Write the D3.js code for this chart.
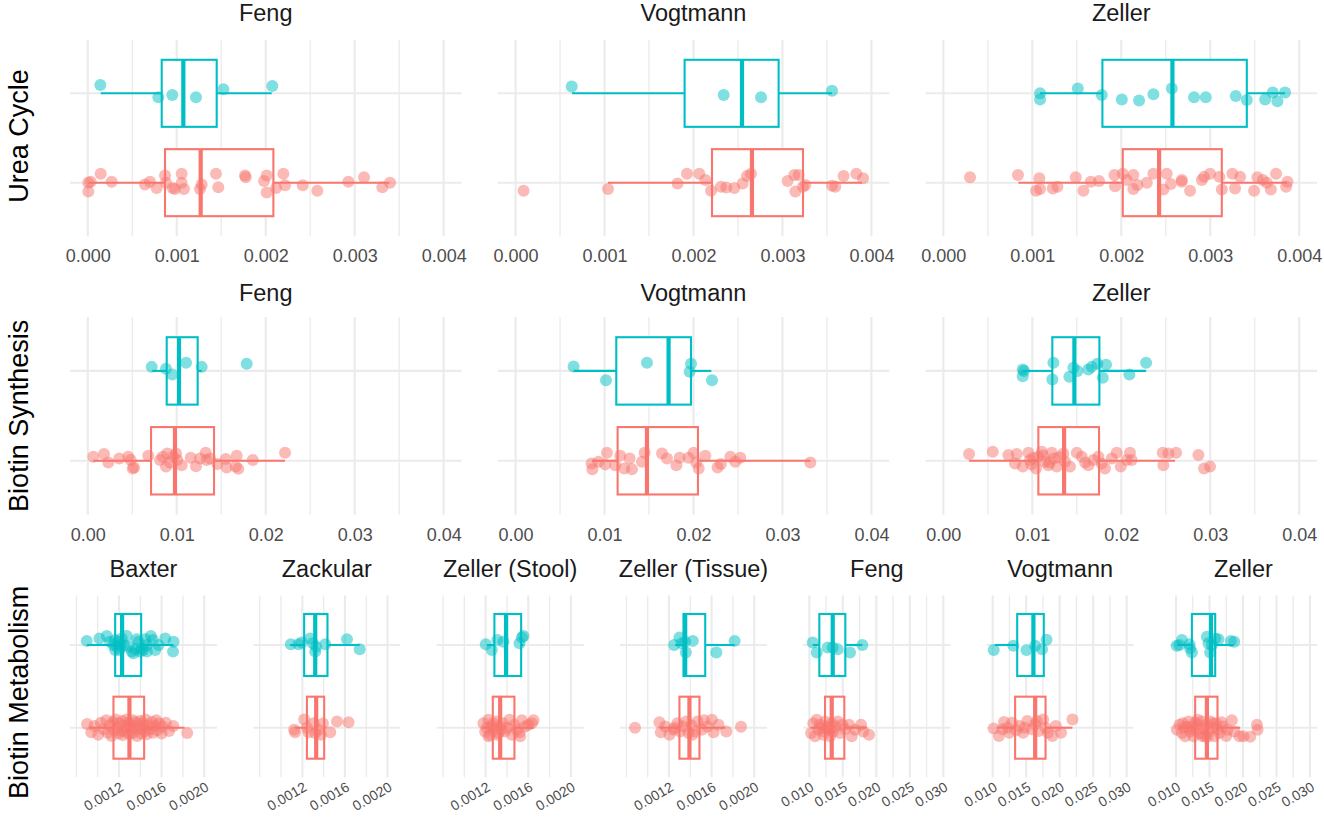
<!DOCTYPE html>
<html>
<head>
<meta charset="utf-8">
<script src="https://cdn.jsdelivr.net/npm/d3@7"></script>
<style>
  html, body { margin: 0; padding: 0; background: #ffffff; }
  svg { display: block; font-family: "Liberation Sans", Arial, Helvetica, sans-serif; }
</style>
</head>
<body>
<svg id="chart" width="1324" height="835"></svg>
<script>
// ------------------------------------------------------------------
// Data: relative abundance per sample, [value, vertical jitter in category units]
// "ctrl" = first factor level (bottom, red), "crc" = second level (top, teal)
// Box stats: [lower whisker, Q1, median, Q3, upper whisker]
// ------------------------------------------------------------------
const groups = ["Control", "CRC"];
const pathways = ["Urea Cycle", "Biotin Synthesis", "Biotin Metabolism"];

// ---- Urea Cycle ----
const ureaFengCrc = [[0.000141,0.093],[0.000793,-0.045],[0.000950,-0.019],[0.001216,-0.045],[0.001524,0.045],[0.002074,0.082]];
const ureaFengCrcBox = [0.000145,0.000831,0.001074,0.001449,0.002067];
const ureaFengCtrl = [[0.000006,0],[0.000006,-0.10],[0.000032,0.01],[0.000145,0.10],[0.000268,0.01],[0.000643,-0.02],[0.000699,0.01],[0.000774,-0.06],[0.000868,0.08],[0.000879,0],[0.000954,-0.06],[0.000980,-0.07],[0.001055,0.10],[0.001055,0],[0.001081,-0.07],[0.001261,-0.07],[0.001280,-0.02],[0.001441,0.10],[0.001467,-0.05],[0.001767,0.08],[0.001775,0.06],[0.001981,0.02],[0.002011,0.08],[0.002011,-0.11],[0.002116,-0.06],[0.002198,0.10],[0.002217,-0.03],[0.002416,-0.03],[0.002580,-0.09],[0.002929,0.01],[0.003105,0.06],[0.003311,-0.05],[0.003397,0]];
const ureaFengCtrlBox = [0.000006,0.000868,0.001269,0.002086,0.003390];

const ureaVogtCrc = [[0.000631,0.075],[0.002339,-0.02],[0.002759,-0.045],[0.003557,0.03]];
const ureaVogtCrcBox = [0.000634,0.001900,0.002545,0.002957,0.003557];
const ureaVogtCtrl = [[0.000090,-0.09],[0.001039,-0.07],[0.001821,-0.01],[0.001927,0.10],[0.002065,0.10],[0.002133,0.03],[0.002197,-0.09],[0.002309,-0.045],[0.002369,-0.055],[0.002459,-0.06],[0.002552,-0.01],[0.002601,0.075],[0.002646,0.10],[0.003058,0.02],[0.003133,0.085],[0.003145,-0.10],[0.003182,0.085],[0.003231,-0.045],[0.003257,-0.025],[0.003557,-0.035],[0.003594,-0.045],[0.003687,0.075],[0.003830,0.10],[0.003906,0.05]];
const ureaVogtCtrlBox = [0.001039,0.002208,0.002657,0.003231,0.003894];

const ureaZellerCrc = [[0.001087,0],[0.001087,-0.07],[0.001511,0.055],[0.001781,-0.02],[0.002006,-0.07],[0.002200,-0.08],[0.002361,-0.01],[0.002568,0.055],[0.002818,-0.045],[0.002950,-0.045],[0.003287,-0.03],[0.003411,-0.075],[0.003617,-0.07],[0.003703,0.01],[0.003755,-0.09],[0.003841,0.01]];
const ureaZellerCrcBox = [0.001087,0.001788,0.002575,0.003411,0.003841];
const ureaZellerCtrl = [[0.000300,0.06],[0.000839,0.085],[0.001079,0.05],[0.001042,-0.09],[0.001087,-0.07],[0.001230,-0.065],[0.001282,-0.045],[0.001488,0.06],[0.001574,-0.09],[0.001657,0.01],[0.001750,0.02],[0.001923,0.085],[0.001930,-0.04],[0.002017,0.10],[0.002062,0.03],[0.002136,0.085],[0.002136,-0.07],[0.002181,-0.025],[0.002287,0],[0.002361,0.10],[0.002473,-0.075],[0.002511,0.10],[0.002556,-0.015],[0.002680,0.03],[0.002680,0.01],[0.002773,-0.09],[0.002905,0.03],[0.002931,0.065],[0.002998,0.10],[0.003103,0.065],[0.003130,-0.075],[0.003249,0.10],[0.003279,-0.065],[0.003336,0.065],[0.003493,-0.09],[0.003530,0.06],[0.003591,0.03],[0.003636,0],[0.003681,-0.075],[0.003740,0.10],[0.003853,-0.045],[0.003868,0.01]];
const ureaZellerCtrlBox = [0.000843,0.002017,0.002425,0.003130,0.003861];

// ---- Biotin Synthesis ----
const synFengCrc = [[0.00718,0.045],[0.00879,0.025],[0.00950,-0.04],[0.01104,0.09],[0.01280,0.045],[0.01786,0.08]];
const synFengCrcBox = [0.00725,0.00887,0.01025,0.01235,0.01280];
const synFengCtrl = [[0.00062,0.045],[0.00182,0.075],[0.00231,-0.02],[0.00354,0.025],[0.00455,0.045],[0.00482,0.01],[0.00505,-0.085],[0.00520,-0.075],[0.00680,0.055],[0.00812,0.01],[0.00842,0.045],[0.00879,-0.065],[0.00894,0.08],[0.00924,-0.02],[0.00962,0.045],[0.00992,0.08],[0.01006,0.01],[0.01055,-0.05],[0.01157,0.035],[0.01216,-0.06],[0.01261,0.025],[0.01325,0.09],[0.01336,0.01],[0.01374,0.025],[0.01456,-0.035],[0.01550,0.02],[0.01561,-0.075],[0.01674,0.055],[0.01662,-0.065],[0.01692,-0.09],[0.01854,0.01],[0.02217,0.09]];
const synFengCtrlBox = [0.00062,0.00711,0.00980,0.01419,0.02217];

const synVogtCrc = [[0.00652,0.05],[0.01016,-0.105],[0.01477,0.09],[0.01972,0.08],[0.01956,-0.01],[0.02208,-0.105]];
const synVogtCrcBox = [0.00652,0.01132,0.01720,0.01972,0.02200];
const synVogtCtrl = [[0.00855,-0.03],[0.00863,-0.095],[0.00933,-0.01],[0.01008,-0.04],[0.01027,0.09],[0.01121,-0.05],[0.01177,0.055],[0.01222,-0.085],[0.01282,0.025],[0.01308,-0.095],[0.01421,-0.01],[0.01451,0.09],[0.01646,0.08],[0.01702,0.025],[0.01807,-0.05],[0.01844,0.035],[0.01945,0.035],[0.02001,0.09],[0.02031,-0.02],[0.02058,-0.085],[0.02133,0.055],[0.02271,-0.075],[0.02308,-0.035],[0.02414,0.045],[0.02470,-0.01],[0.02526,0.035],[0.03313,-0.02]];
const synVogtCtrlBox = [0.00859,0.01147,0.01477,0.02050,0.03313];

const synZellerCrc = [[0.00892,0.015],[0.00892,-0.06],[0.00907,0],[0.01237,0.09],[0.01225,-0.095],[0.01417,-0.065],[0.01462,0.035],[0.01507,0],[0.01630,0.015],[0.01668,0.045],[0.01731,0.08],[0.01792,-0.075],[0.01829,0.07],[0.02091,-0.04],[0.02279,0.09]];
const synZellerCrcBox = [0.00892,0.01225,0.01473,0.01754,0.02279];
const synZellerCtrl = [[0.00289,0.075],[0.00555,0.10],[0.00731,0.065],[0.00825,0.075],[0.00806,-0.03],[0.00892,-0.065],[0.00956,0.09],[0.00975,0.01],[0.00990,-0.04],[0.01010,0.03],[0.01042,-0.085],[0.01068,0.045],[0.01106,0.10],[0.01120,0.06],[0.01143,-0.01],[0.01180,-0.05],[0.01195,-0.02],[0.01219,0.09],[0.01244,0.025],[0.01274,-0.065],[0.01300,0.04],[0.01349,0.08],[0.01368,-0.01],[0.01424,-0.065],[0.01500,0.09],[0.01556,0.045],[0.01593,-0.02],[0.01630,-0.05],[0.01686,0.01],[0.01742,0.045],[0.01780,-0.03],[0.01817,-0.085],[0.01893,0.025],[0.01949,0.09],[0.01994,-0.065],[0.02061,0.01],[0.02098,0.09],[0.02117,0.01],[0.02466,0.09],[0.02473,-0.05],[0.02530,0.08],[0.02616,0.09],[0.02867,0.065],[0.02931,-0.085],[0.02998,-0.065]];
const synZellerCtrlBox = [0.00289,0.01068,0.01357,0.01750,0.02605];

// ---- Biotin Metabolism ----
const metBaxterCrc = [[0.000897,0.05],[0.001016,0.08],[0.001085,0.11],[0.001116,0.04],[0.001148,0],[0.001164,0.06],[0.001164,-0.06],[0.001185,-0.02],[0.001195,0.04],[0.001204,-0.06],[0.001216,0],[0.001226,0.08],[0.001248,0],[0.001273,0.11],[0.001289,-0.02],[0.001320,-0.08],[0.001336,-0.10],[0.001352,-0.05],[0.001367,0.07],[0.001383,0.04],[0.001399,-0.08],[0.001415,-0.04],[0.001430,-0.06],[0.001446,0.07],[0.001462,0],[0.001462,-0.08],[0.001499,0.11],[0.001518,0.06],[0.001540,-0.06],[0.001571,0],[0.001634,0.08],[0.001712,0.04],[0.001707,-0.08]];
const metBaxterCrcBox = [0.000898,0.001164,0.001229,0.001408,0.001712];
const metBaxterCtrl = [[0.000900,0.045],[0.000940,-0.055],[0.000970,0.02],[0.001005,-0.085],[0.001030,0.06],[0.001055,-0.02],[0.001080,0.09],[0.001095,-0.06],[0.001115,0.03],[0.001130,-0.10],[0.001145,0.07],[0.001155,-0.03],[0.001170,0.10],[0.001185,0.0],[0.001195,-0.07],[0.001205,0.05],[0.001220,-0.04],[0.001230,0.08],[0.001235,-0.09],[0.001250,0.02],[0.001260,-0.05],[0.001270,0.10],[0.001280,-0.01],[0.001290,0.06],[0.001300,-0.08],[0.001305,0.03],[0.001320,-0.03],[0.001330,0.09],[0.001335,-0.06],[0.001350,0.01],[0.001360,0.07],[0.001370,-0.10],[0.001380,0.04],[0.001390,-0.02],[0.001400,0.08],[0.001410,-0.07],[0.001420,0.0],[0.001430,0.05],[0.001445,-0.04],[0.001450,0.10],[0.001460,-0.08],[0.001480,0.03],[0.001495,-0.02],[0.001510,0.07],[0.001520,-0.06],[0.001535,0.02],[0.001550,0.09],[0.001560,-0.03],[0.001580,0.05],[0.001600,-0.07],[0.001610,0.01],[0.001640,0.06],[0.001670,-0.04],[0.001710,0.02],[0.001840,-0.065]];
const metBaxterCtrlBox = [0.000922,0.001148,0.001298,0.001436,0.001816];

const metZackularCrc = [[0.001092,0.01],[0.001164,0.01],[0.001195,0.03],[0.001274,0.08],[0.001299,0.02],[0.001321,-0.08],[0.001330,-0.02],[0.001415,0.01],[0.001619,0.07],[0.001738,-0.05]];
const metZackularCrcBox = [0.001085,0.001217,0.001321,0.001436,0.001738];
const metZackularCtrl = [[0.001123,-0.025],[0.001132,-0.055],[0.001217,0.10],[0.001243,0],[0.001258,-0.055],[0.001305,0.055],[0.001321,-0.065],[0.001352,-0.025],[0.001374,-0.085],[0.001393,0.05],[0.001462,-0.055],[0.001525,0.075],[0.001634,0.065]];
const metZackularCtrlBox = [0.001132,0.001243,0.001330,0.001405,0.001424];

const metZellerStoolCrc = [[0.001201,0.01],[0.001258,-0.06],[0.001310,0.06],[0.001367,0.04],[0.001518,0.02],[0.001540,0.09],[0.001555,0.11]];
const metZellerStoolCrcBox = [0.001211,0.001282,0.001392,0.001533,0.001555];
const metZellerStoolCtrl = [[0.001179,0.055],[0.001195,-0.045],[0.001210,0],[0.001226,0.095],[0.001226,-0.105],[0.001242,-0.085],[0.001258,0.015],[0.001270,0.055],[0.001279,-0.025],[0.001298,0.075],[0.001305,-0.085],[0.001320,-0.065],[0.001336,0.015],[0.001350,-0.025],[0.001361,0.055],[0.001383,-0.045],[0.001404,0],[0.001423,0.095],[0.001446,-0.085],[0.001468,0.035],[0.001493,-0.025],[0.001517,-0.055],[0.001524,-0.105],[0.001540,0.09],[0.001571,0.015],[0.001602,0.035],[0.001634,0.055],[0.001649,0.09]];
const metZellerStoolCtrlBox = [0.001179,0.001267,0.001336,0.001470,0.001649];

const metZellerTissueCrc = [[0.001248,0],[0.001298,0.09],[0.001320,0.02],[0.001352,0.04],[0.001358,-0.09],[0.001424,0.05],[0.001644,-0.09],[0.001816,0.05]];
const metZellerTissueCrcBox = [0.001258,0.001336,0.001352,0.001540,0.001816];
const metZellerTissueCtrl = [[0.000881,0],[0.001110,0.065],[0.001123,-0.055],[0.001164,0.015],[0.001204,-0.085],[0.001242,-0.025],[0.001250,0],[0.001279,0.055],[0.001305,-0.045],[0.001336,0.015],[0.001361,0.075],[0.001383,-0.065],[0.001415,0.025],[0.001420,-0.085],[0.001446,-0.045],[0.001468,0.075],[0.001509,-0.025],[0.001530,0.09],[0.001562,0.015],[0.001603,0.095],[0.001618,-0.055],[0.001665,0.035],[0.001738,-0.045],[0.001876,0.01]];
const metZellerTissueCtrlBox = [0.001116,0.001298,0.001392,0.001486,0.001728];

const metFengCrc = [[0.01050,0.03],[0.01110,-0.09],[0.01274,-0.03],[0.01349,-0.03],[0.01424,-0.05],[0.01607,-0.09],[0.01791,0]];
const metFengCrcBox = [0.01050,0.01149,0.01349,0.01537,0.01791];
const metFengCtrl = [[0.01025,-0.065],[0.01059,0.055],[0.01085,-0.105],[0.01110,0.095],[0.01134,-0.025],[0.01159,0.035],[0.01180,0],[0.01209,-0.085],[0.01220,-0.045],[0.01234,0.075],[0.01259,0],[0.01283,0.015],[0.01309,-0.105],[0.01320,-0.025],[0.01334,0.055],[0.01358,-0.045],[0.01383,0.015],[0.01424,0.075],[0.01458,-0.065],[0.01492,0.035],[0.01533,-0.015],[0.01592,0.035],[0.01633,-0.105],[0.01682,-0.025],[0.01772,0.035],[0.01806,-0.045],[0.01891,-0.085]];
const metFengCtrlBox = [0.01025,0.01234,0.01334,0.01522,0.01857];

const metVogtCrc = [[0.01015,-0.06],[0.01309,-0.01],[0.01505,-0.06],[0.01634,-0.01],[0.01737,-0.05],[0.01804,0.065]];
const metVogtCrcBox = [0.01031,0.01366,0.01608,0.01763,0.01780];
const metVogtCtrl = [[0.01015,-0.01],[0.01093,-0.10],[0.01144,-0.02],[0.01170,0.07],[0.01222,0],[0.01247,-0.06],[0.01289,0.06],[0.01351,-0.03],[0.01402,0.02],[0.01454,-0.06],[0.01479,0],[0.01516,0.08],[0.01583,-0.02],[0.01634,0.04],[0.01660,0.08],[0.01686,-0.04],[0.01753,0.10],[0.01789,0],[0.01825,-0.06],[0.01892,-0.10],[0.01943,0.02],[0.02021,-0.06],[0.02191,0.10]];
const metVogtCtrlBox = [0.01067,0.01335,0.01634,0.01789,0.02191];

const metZellerCrc = [[0.01010,-0.01],[0.01050,0],[0.01088,0.06],[0.01201,0.01],[0.01210,-0.04],[0.01237,-0.09],[0.01461,0.10],[0.01485,0.02],[0.01510,-0.09],[0.01536,0],[0.01585,0.08],[0.01634,0.07],[0.01819,0.05],[0.01869,0.04]];
const metZellerCrcBox = [0.01013,0.01237,0.01521,0.01585,0.01858];
const metZellerCtrl = [[0.01013,-0.025],[0.01052,0.035],[0.01088,-0.065],[0.01103,0.055],[0.01120,0],[0.01137,-0.105],[0.01162,0.01],[0.01186,0.075],[0.01212,-0.045],[0.01237,0.015],[0.01250,-0.025],[0.01261,-0.105],[0.01286,0.065],[0.01312,-0.025],[0.01325,0.095],[0.01336,0.035],[0.01361,-0.07],[0.01386,0.075],[0.01400,-0.105],[0.01410,-0.015],[0.01436,-0.105],[0.01461,0.035],[0.01470,-0.11],[0.01485,-0.045],[0.01510,0.075],[0.01536,0],[0.01550,0.055],[0.01570,-0.105],[0.01600,0.05],[0.01620,-0.02],[0.01649,-0.065],[0.01680,0.065],[0.01700,0.015],[0.01749,-0.10],[0.01769,-0.025],[0.01834,0.09],[0.01869,-0.045],[0.01948,-0.105],[0.02008,-0.105],[0.02108,-0.11],[0.02208,0.035],[0.02218,-0.025]];
const metZellerCtrlBox = [0.01037,0.01286,0.01461,0.01619,0.01958];

// ---- axis ticks ----
const ureaTicks = [0, 0.001, 0.002, 0.003, 0.004];
const ureaTickLabels = ["0.000", "0.001", "0.002", "0.003", "0.004"];
const synTicks = [0, 0.01, 0.02, 0.03, 0.04];
const synTickLabels = ["0.00", "0.01", "0.02", "0.03", "0.04"];
const metSmallTicks = [0.0012, 0.0016, 0.0020];
const metSmallTickLabels = ["0.0012", "0.0016", "0.0020"];
const metLargeTicks = [0.010, 0.015, 0.020, 0.025, 0.030];
const metLargeTickLabels = ["0.010", "0.015", "0.020", "0.025", "0.030"];

// ------------------------------------------------------------------
// Layout
// ------------------------------------------------------------------
const colors = { ctrl: "#F8766D", crc: "#00BFC4" };
const plotLeft = 70, plotRight = 1317, panelGap = 36.33;

const rowLayout = [
  { top: 39.7, bottom: 236.3, strip: 21,    ncol: 3, rotate: false, titleShift: -2 },
  { top: 317.0, bottom: 514.7, strip: 300.5, ncol: 3, rotate: false, titleShift: 0 },
  { top: 595.4, bottom: 777.3, strip: 576.7, ncol: 7, rotate: true,  titleShift: 6 }
];

const ureaScale = { domain: [-0.0002, 0.0042], ticks: ureaTicks, labels: ureaTickLabels };
const synScale = { domain: [-0.002, 0.042], ticks: synTicks, labels: synTickLabels };
const metSmallScale = { domain: [0.00074, 0.00212], ticks: metSmallTicks, labels: metSmallTickLabels };
const metLargeScale = { domain: [0.0091, 0.03105], ticks: metLargeTicks, labels: metLargeTickLabels };

const panels = [
  { row: 0, col: 0, title: "Feng", scale: ureaScale, ctrl: ureaFengCtrl, crc: ureaFengCrc, ctrlBox: ureaFengCtrlBox, crcBox: ureaFengCrcBox },
  { row: 0, col: 1, title: "Vogtmann", scale: ureaScale, ctrl: ureaVogtCtrl, crc: ureaVogtCrc, ctrlBox: ureaVogtCtrlBox, crcBox: ureaVogtCrcBox },
  { row: 0, col: 2, title: "Zeller", scale: ureaScale, ctrl: ureaZellerCtrl, crc: ureaZellerCrc, ctrlBox: ureaZellerCtrlBox, crcBox: ureaZellerCrcBox },
  { row: 1, col: 0, title: "Feng", scale: synScale, ctrl: synFengCtrl, crc: synFengCrc, ctrlBox: synFengCtrlBox, crcBox: synFengCrcBox },
  { row: 1, col: 1, title: "Vogtmann", scale: synScale, ctrl: synVogtCtrl, crc: synVogtCrc, ctrlBox: synVogtCtrlBox, crcBox: synVogtCrcBox },
  { row: 1, col: 2, title: "Zeller", scale: synScale, ctrl: synZellerCtrl, crc: synZellerCrc, ctrlBox: synZellerCtrlBox, crcBox: synZellerCrcBox },
  { row: 2, col: 0, title: "Baxter", scale: metSmallScale, ctrl: metBaxterCtrl, crc: metBaxterCrc, ctrlBox: metBaxterCtrlBox, crcBox: metBaxterCrcBox },
  { row: 2, col: 1, title: "Zackular", scale: metSmallScale, ctrl: metZackularCtrl, crc: metZackularCrc, ctrlBox: metZackularCtrlBox, crcBox: metZackularCrcBox },
  { row: 2, col: 2, title: "Zeller (Stool)", scale: metSmallScale, ctrl: metZellerStoolCtrl, crc: metZellerStoolCrc, ctrlBox: metZellerStoolCtrlBox, crcBox: metZellerStoolCrcBox },
  { row: 2, col: 3, title: "Zeller (Tissue)", scale: metSmallScale, ctrl: metZellerTissueCtrl, crc: metZellerTissueCrc, ctrlBox: metZellerTissueCtrlBox, crcBox: metZellerTissueCrcBox },
  { row: 2, col: 4, title: "Feng", scale: metLargeScale, ctrl: metFengCtrl, crc: metFengCrc, ctrlBox: metFengCtrlBox, crcBox: metFengCrcBox },
  { row: 2, col: 5, title: "Vogtmann", scale: metLargeScale, ctrl: metVogtCtrl, crc: metVogtCrc, ctrlBox: metVogtCtrlBox, crcBox: metVogtCrcBox },
  { row: 2, col: 6, title: "Zeller", scale: metLargeScale, ctrl: metZellerCtrl, crc: metZellerCrc, ctrlBox: metZellerCtrlBox, crcBox: metZellerCrcBox }
];

// ------------------------------------------------------------------
// Drawing
// ------------------------------------------------------------------
const svg = d3.select("#chart");
svg.append("rect").attr("width", 1324).attr("height", 835).attr("fill", "#ffffff");

const gridColor = "#EBEBEB";
const boxHalf = 0.375;      // half of box width in category units
const pointR = 6;
const boxStroke = 2.1;
const levels = { ctrl: 1, crc: 2 };

// minor breaks: half steps between majors (and one beyond), inside the limits
function minorBreaks(ticks, domain) {
  const step = ticks[1] - ticks[0];
  const out = [];
  for (let k = -2; k <= 2 * ticks.length + 1; k++) {
    const v = ticks[0] + k * step / 2;
    const isMajor = ticks.some(t => Math.abs(t - v) < step * 1e-6);
    if (!isMajor && v >= domain[0] && v <= domain[1]) out.push(v);
  }
  return out;
}

panels.forEach(p => {
  const L = rowLayout[p.row];
  const width = (plotRight - plotLeft - (L.ncol - 1) * panelGap) / L.ncol;
  const x0 = plotLeft + p.col * (width + panelGap);

  const x = d3.scaleLinear().domain(p.scale.domain).range([x0, x0 + width]);
  const y = d3.scaleLinear().domain([0.4, 2.6]).range([L.bottom, L.top]);

  const g = svg.append("g");

  // grid
  const minors = minorBreaks(p.scale.ticks, p.scale.domain);
  g.selectAll(".minor").data(minors).join("line")
    .attr("x1", d => x(d)).attr("x2", d => x(d))
    .attr("y1", L.top).attr("y2", L.bottom)
    .attr("stroke", gridColor).attr("stroke-width", 1.3);
  g.selectAll(".majorx").data(p.scale.ticks).join("line")
    .attr("x1", d => x(d)).attr("x2", d => x(d))
    .attr("y1", L.top).attr("y2", L.bottom)
    .attr("stroke", gridColor).attr("stroke-width", 2.1);
  g.selectAll(".majory").data([1, 2]).join("line")
    .attr("x1", x0).attr("x2", x0 + width)
    .attr("y1", d => y(d)).attr("y2", d => y(d))
    .attr("stroke", gridColor).attr("stroke-width", 2.1);

  // boxplots
  ["ctrl", "crc"].forEach(key => {
    const b = p[key + "Box"];
    const lv = levels[key];
    const c = colors[key];
    const bg = g.append("g");
    bg.append("line").attr("x1", x(b[0])).attr("x2", x(b[1]))
      .attr("y1", y(lv)).attr("y2", y(lv)).attr("stroke", c).attr("stroke-width", boxStroke);
    bg.append("line").attr("x1", x(b[3])).attr("x2", x(b[4]))
      .attr("y1", y(lv)).attr("y2", y(lv)).attr("stroke", c).attr("stroke-width", boxStroke);
    bg.append("rect")
      .attr("x", x(b[1])).attr("width", x(b[3]) - x(b[1]))
      .attr("y", y(lv + boxHalf)).attr("height", y(lv - boxHalf) - y(lv + boxHalf))
      .attr("fill", "#ffffff").attr("stroke", c).attr("stroke-width", boxStroke);
    bg.append("line").attr("x1", x(b[2])).attr("x2", x(b[2]))
      .attr("y1", y(lv + boxHalf)).attr("y2", y(lv - boxHalf))
      .attr("stroke", c).attr("stroke-width", boxStroke * 2);
  });

  // jittered points
  ["ctrl", "crc"].forEach(key => {
    const lv = levels[key];
    g.append("g").selectAll("circle").data(p[key]).join("circle")
      .attr("cx", d => x(d[0]))
      .attr("cy", d => y(lv + d[1]))
      .attr("r", pointR)
      .attr("fill", colors[key])
      .attr("fill-opacity", 0.5);
  });

  // x axis
  const ax = g.append("g").attr("transform", `translate(0,${L.bottom})`);
  const labels = p.scale.labels;
  ax.call(d3.axisBottom(x)
      .tickValues(p.scale.ticks)
      .tickFormat((d, i) => labels[i])
      .tickSize(0)
      .tickPadding(L.rotate ? 0 : 13.2));
  ax.select(".domain").remove();
  ax.selectAll(".tick line").remove();
  ax.selectAll(".tick text")
    .attr("fill", "#4D4D4D")
    .style("font-family", "'Liberation Sans', Arial, sans-serif")
    .style("font-size", L.rotate ? "14px" : "18px");
  if (L.rotate) {
    ax.selectAll(".tick text")
      .attr("x", 0).attr("y", 0).attr("dy", "0.71em")
      .attr("text-anchor", "end")
      .attr("transform", "translate(0,4) rotate(-30)");
  }

  // strip title
  g.append("text")
    .attr("x", x0 + width / 2).attr("y", L.strip)
    .attr("text-anchor", "middle")
    .attr("fill", "#1A1A1A")
    .style("font-size", "23.5px")
    .text(p.title);
});

// row titles
rowLayout.forEach((L, i) => {
  const cy = (L.top + L.bottom) / 2 + L.titleShift;
  svg.append("text")
    .attr("transform", `translate(28,${cy}) rotate(-90)`)
    .attr("text-anchor", "middle")
    .attr("fill", "#000000")
    .style("font-size", "27px")
    .text(pathways[i]);
});
</script>
</body>
</html>
